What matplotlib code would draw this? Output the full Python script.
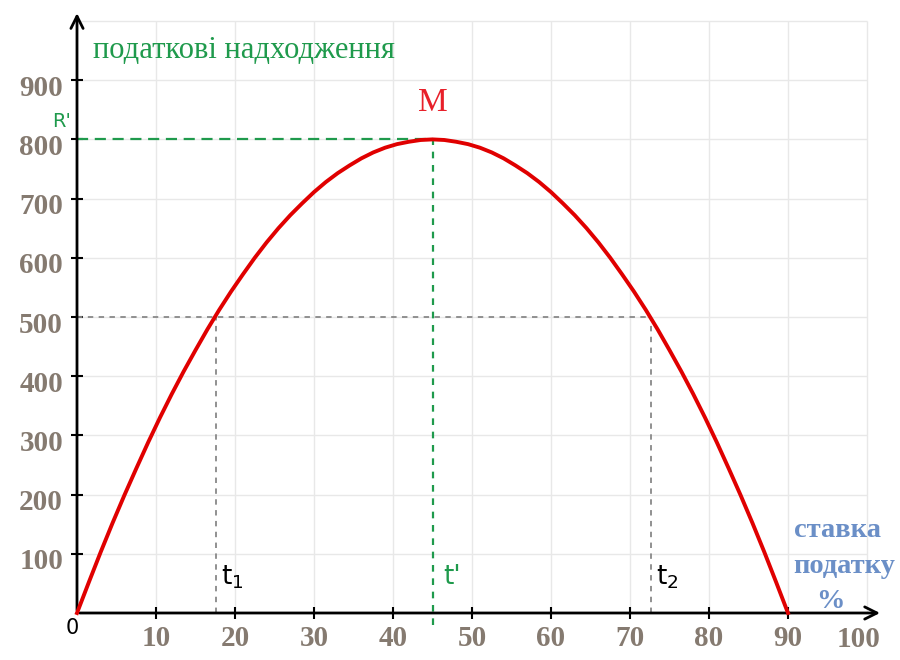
import matplotlib
matplotlib.use("Agg")
import matplotlib.pyplot as plt
from matplotlib.transforms import ScaledTranslation

# tax rate (%) and tax revenue
rate = [i * 1.5 for i in range(61)]
revenue = [0, 52, 103, 152, 199, 244, 288, 330, 370, 408, 444, 479, 512, 543, 572, 600,
           626, 650, 672, 692, 711, 728, 743, 756, 768, 778, 786, 792, 796, 799, 800,
           799, 796, 792, 786, 778, 768, 756, 743, 728, 711, 692, 672, 650, 626, 600,
           572, 543, 512, 479, 444, 408, 370, 330, 288, 244, 199, 152, 103, 52, 0]

x_ticks = [10, 20, 30, 40, 50, 60, 70, 80, 90, 100]
y_ticks = [100, 200, 300, 400, 500, 600, 700, 800, 900]

t1, t_max, t2 = 17.6, 45.1, 72.7
r_level, r_max = 500, 800

label_col = "#857a70"
green = "#1f9a4c"

fig = plt.figure(figsize=(9, 6.6), dpi=100)
ax = fig.add_axes([77 / 900, 47 / 660, 102 * 7.9 / 900, 1020 * 0.592 / 660])
ax.set_xlim(0, 102)
ax.set_ylim(0, 1020)
for s in ax.spines.values():
    s.set_visible(False)

# light grid
ax.vlines(x_ticks, 0, 1000, color="#e8e8e8", lw=1, zorder=0)
ax.hlines(y_ticks + [1000], 0, 100, color="#e8e8e8", lw=1, zorder=0)

# axes with arrows
ax.annotate("", xy=(102, 0), xytext=(0, 0),
            arrowprops=dict(arrowstyle="->", lw=2, color="black", mutation_scale=22), annotation_clip=False)
ax.annotate("", xy=(0, 1018), xytext=(0, 0),
            arrowprops=dict(arrowstyle="->", lw=2, color="black", mutation_scale=22), annotation_clip=False)

ax.set_xticks(x_ticks[:-1])
ax.set_yticks(y_ticks)
ax.tick_params(direction="inout", length=8, width=1.5, color="black", labelsize=21, labelcolor=label_col)
ax.tick_params(axis="x", pad=5)
ax.tick_params(axis="y", pad=6)
ax.set_xticklabels([str(v) for v in x_ticks[:-1]], fontfamily="Liberation Serif", fontweight="bold")
ax.set_yticklabels([str(v) for v in y_ticks], fontfamily="Liberation Serif", fontweight="bold")
# y labels sit a little below their ticks
shift = ScaledTranslation(0, -0.05, fig.dpi_scale_trans)
for lbl in ax.get_yticklabels():
    lbl.set_transform(lbl.get_transform() + shift)
ax.text(98.9, -45, "100", ha="center", va="center", fontsize=21, color=label_col,
        fontfamily="Liberation Serif", fontweight="bold", clip_on=False)
ax.text(-0.6, -25, "0", ha="center", va="center", fontsize=15, color="black", clip_on=False)

# guide lines
ax.plot([0, t_max], [r_max, r_max], color=green, lw=1.6, ls=(0, (5, 3)))
ax.plot([t_max, t_max], [-20, r_max], color=green, lw=1.6, ls=(0, (3, 3)), clip_on=False)
ax.plot([0, t2], [r_level, r_level], color="#888888", lw=1.3, ls=(0, (3, 3)))
ax.plot([t1, t1], [0, r_level], color="#888888", lw=1.3, ls=(0, (3, 3)))
ax.plot([t2, t2], [0, r_level], color="#888888", lw=1.3, ls=(0, (3, 3)))

# Laffer curve
ax.plot(rate, revenue, color="#e00000", lw=2.8, zorder=5, clip_on=False, solid_joinstyle="round")

# texts
ax.text(2, 950, "податкові надходження", color=green, fontsize=22, fontfamily="Liberation Serif",
        va="center")
ax.text(-2, 830, "R'", color=green, fontsize=14, ha="center", va="center", clip_on=False,
        fontfamily="Liberation Sans Narrow")
ax.text(45, 862, "M", color="#e8202a", fontsize=24, ha="center", va="center", fontfamily="Liberation Serif")
ax.text(t1 + 0.6, 60, "t$_1$", color="black", fontsize=19, va="center", fontfamily="DejaVu Sans")
ax.text(t_max + 1.3, 60, "t'", color=green, fontsize=19, va="center", fontfamily="DejaVu Sans")
ax.text(t2 + 0.6, 60, "t$_2$", color="black", fontsize=19, va="center", fontfamily="DejaVu Sans")
ax.text(90.7, 140, "ставка", color="#6b8fc7", fontsize=20.5, fontweight="bold", va="center",
        fontfamily="Liberation Serif")
ax.text(90.7, 78, "податку", color="#6b8fc7", fontsize=20.5, fontweight="bold", va="center",
        fontfamily="Liberation Serif", clip_on=False)
ax.text(93.5, 20, "%", color="#6b8fc7", fontsize=20.5, fontweight="bold", va="center",
        fontfamily="Liberation Serif")

fig.savefig("out.png", dpi=100)
